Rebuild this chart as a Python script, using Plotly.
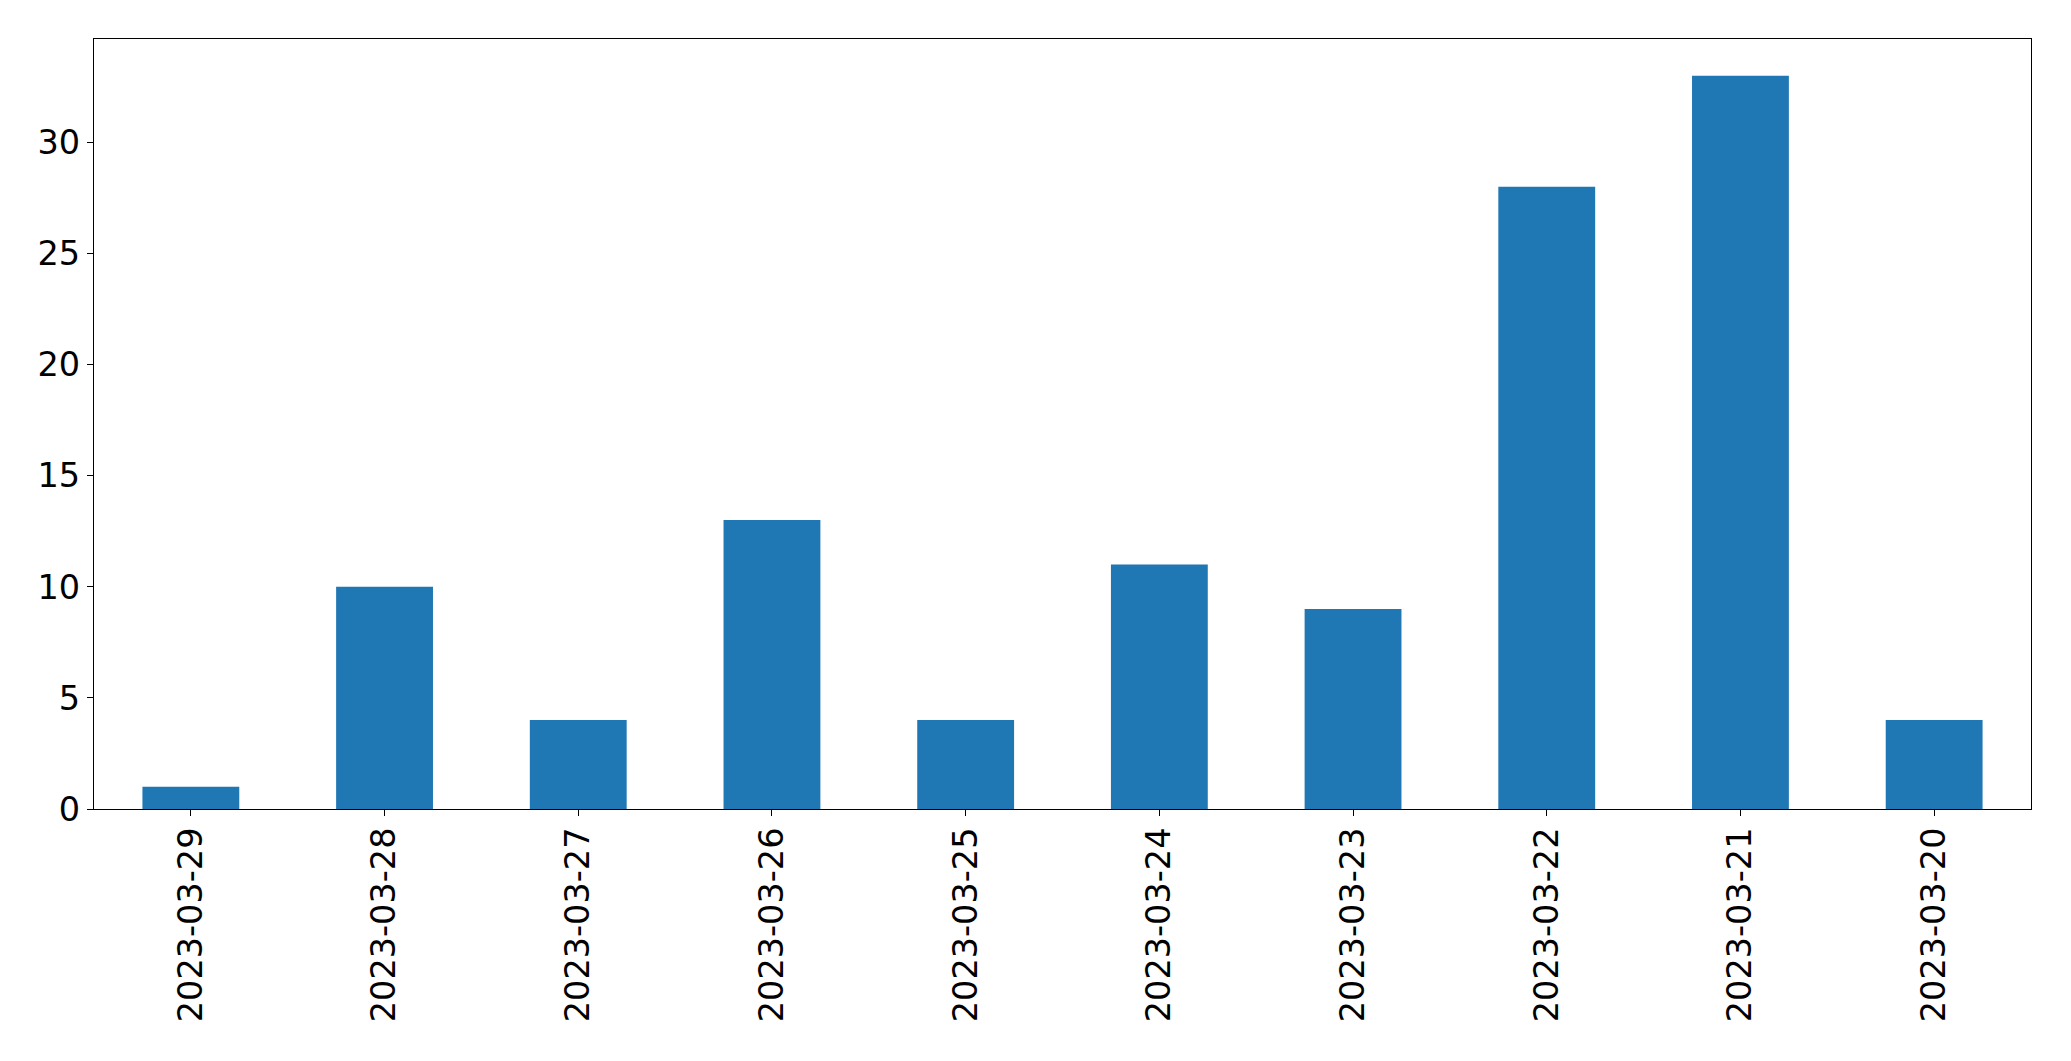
import plotly.graph_objects as go

dates = ["2023-03-29", "2023-03-28", "2023-03-27", "2023-03-26", "2023-03-25",
         "2023-03-24", "2023-03-23", "2023-03-22", "2023-03-21", "2023-03-20"]
counts = [1, 10, 4, 13, 4, 11, 9, 28, 33, 4]
y_ticks = [0, 5, 10, 15, 20, 25, 30]

fig = go.Figure(go.Bar(x=dates, y=counts, marker_color="#1f77b4", width=0.5,
                       marker_line_width=0))

fig.update_layout(
    width=2071, height=1061,
    margin=dict(l=94, r=40, t=39, b=252),
    paper_bgcolor="white", plot_bgcolor="white",
    font=dict(family="DejaVu Sans", size=33.5, color="black"),
    showlegend=False,
)
fig.update_xaxes(type="category", range=[-0.5, len(dates) - 0.5], tickangle=-90,
                 showline=True, linecolor="black", linewidth=1.3, mirror=True,
                 ticks="outside", ticklen=6, tickwidth=1.3, tickcolor="black",
                 ticklabelstandoff=-2,
                 showgrid=False, zeroline=False)
fig.update_yaxes(range=[0, max(counts) * 1.05], tickvals=y_ticks,
                 showline=True, linecolor="black", linewidth=1.3, mirror=True,
                 ticks="outside", ticklen=6, tickwidth=1.3, tickcolor="black",
                 showgrid=False, zeroline=False)

fig.write_html("out.html")
